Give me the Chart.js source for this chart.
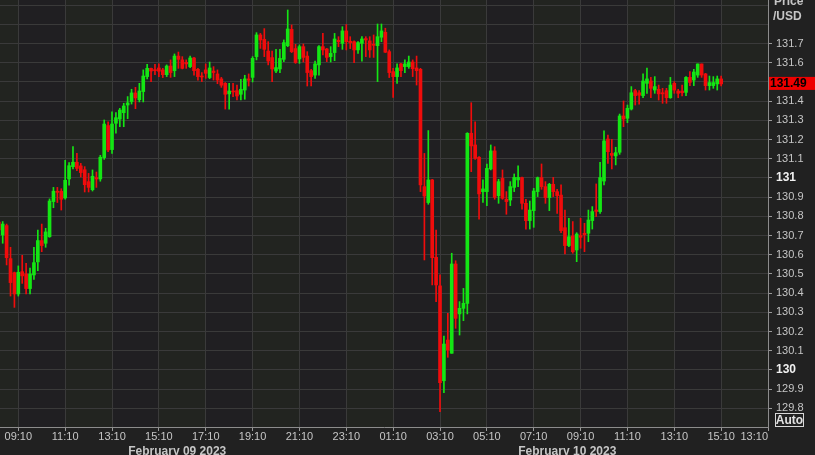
<!DOCTYPE html>
<html>
<head>
<meta charset="utf-8">
<title>Price /USD - 10 minute candles</title>
<script src="https://cdn.jsdelivr.net/npm/chart.js@4.4.1/dist/chart.umd.min.js"></script>
<style>
    html, body { margin: 0; padding: 0; background: #212121; }
    canvas { display: block; }
</style>
</head>
<body>
<canvas id="priceChart" width="815" height="455"></canvas>
<script>
// ─── DATA ────────────────────────────────────────────────────
// 10 minute candles, first one at Feb 09 2023 08:20, last one at Feb 10 15:10

const firstCandleHour = 8 + 20 / 60;   // hours since Feb 09 00:00
const candleMinutes = 10;

const opens = [
    130.77, 130.703, 130.752, 130.580, 130.507, 130.396, 130.512, 130.500, 130.424, 130.495,
    130.563, 130.674, 130.660, 130.694, 130.877, 130.931, 130.931, 130.896, 130.995, 131.059,
    131.082, 131.063, 131.043, 130.981, 130.939, 131.002, 130.995, 131.106, 131.273, 131.148,
    131.285, 131.307, 131.340, 131.380, 131.398, 131.443, 131.408, 131.450, 131.528, 131.571,
    131.564, 131.573, 131.563, 131.538, 131.583, 131.559, 131.635, 131.615, 131.602, 131.580,
    131.625, 131.566, 131.531, 131.563, 131.523, 131.557, 131.542, 131.516, 131.493, 131.438,
    131.453, 131.455, 131.436, 131.458, 131.516, 131.524, 131.632, 131.745, 131.722, 131.661,
    131.627, 131.557, 131.568, 131.618, 131.689, 131.774, 131.674, 131.620, 131.684, 131.635,
    131.559, 131.536, 131.589, 131.684, 131.672, 131.632, 131.653, 131.717, 131.701, 131.766,
    131.712, 131.710, 131.667, 131.701, 131.726, 131.714, 131.696, 131.689, 131.733, 131.759,
    131.658, 131.554, 131.528, 131.594, 131.580, 131.580, 131.604, 131.573, 131.566, 130.955,
    130.872, 130.990, 130.587, 130.438, 129.944, 130.156, 130.087, 130.552, 130.292, 130.321,
    130.347, 131.233, 131.172, 131.108, 130.929, 130.929, 131.047, 131.141, 130.908, 130.998,
    130.889, 130.885, 130.951, 130.990, 131.002, 130.868, 130.778, 130.830, 130.929, 131.002,
    130.955, 130.898, 130.967, 130.929, 130.911, 130.741, 130.648, 130.698, 130.625, 130.700,
    130.712, 130.712, 130.778, 130.833, 130.825, 130.984, 131.203, 131.128, 131.115, 131.134,
    131.323, 131.311, 131.359, 131.455, 131.444, 131.429, 131.493, 131.505, 131.458, 131.462,
    131.444, 131.455, 131.418, 131.493, 131.453, 131.453, 131.446, 131.524, 131.510, 131.536,
    131.594, 131.542, 131.481, 131.481, 131.490, 131.516
];

const highs = [
    130.78, 130.773, 130.760, 130.639, 130.510, 130.542, 130.597, 130.556, 130.531, 130.639,
    130.729, 130.760, 130.738, 130.891, 130.951, 130.951, 130.944, 131.092, 131.080, 131.163,
    131.128, 131.076, 131.059, 131.024, 131.042, 131.031, 131.118, 131.302, 131.292, 131.344,
    131.340, 131.363, 131.389, 131.424, 131.462, 131.472, 131.493, 131.563, 131.592, 131.573,
    131.592, 131.594, 131.571, 131.589, 131.615, 131.646, 131.656, 131.632, 131.615, 131.635,
    131.628, 131.571, 131.549, 131.594, 131.604, 131.580, 131.563, 131.524, 131.497, 131.493,
    131.493, 131.484, 131.514, 131.535, 131.542, 131.632, 131.757, 131.753, 131.778, 131.710,
    131.661, 131.670, 131.670, 131.719, 131.875, 131.797, 131.696, 131.693, 131.698, 131.658,
    131.566, 131.609, 131.689, 131.753, 131.675, 131.684, 131.753, 131.736, 131.788, 131.799,
    131.736, 131.714, 131.710, 131.736, 131.736, 131.736, 131.745, 131.802, 131.802, 131.780,
    131.667, 131.571, 131.594, 131.597, 131.615, 131.635, 131.615, 131.635, 131.571, 131.128,
    131.247, 130.993, 130.729, 130.495, 130.177, 130.295, 130.608, 130.569, 130.356, 130.425,
    131.236, 131.392, 131.293, 131.111, 130.990, 131.073, 131.172, 131.163, 130.993, 131.042,
    130.929, 130.981, 131.021, 131.063, 131.005, 130.889, 130.880, 130.946, 131.005, 131.073,
    130.981, 130.972, 131.003, 130.941, 130.964, 130.833, 130.790, 130.773, 130.715, 130.790,
    130.764, 130.833, 130.851, 130.969, 131.082, 131.245, 131.224, 131.201, 131.160, 131.333,
    131.401, 131.380, 131.476, 131.462, 131.455, 131.542, 131.573, 131.524, 131.528, 131.484,
    131.467, 131.467, 131.524, 131.502, 131.462, 131.484, 131.528, 131.554, 131.566, 131.594,
    131.594, 131.545, 131.531, 131.528, 131.531, 131.531
];

const lows = [
    130.72, 130.660, 130.547, 130.385, 130.326, 130.385, 130.451, 130.396, 130.396, 130.472,
    130.517, 130.616, 130.639, 130.691, 130.845, 130.872, 130.833, 130.889, 130.962, 131.047,
    131.038, 131.005, 130.927, 130.927, 130.932, 130.951, 130.983, 131.097, 131.137, 131.128,
    131.233, 131.267, 131.267, 131.309, 131.385, 131.361, 131.396, 131.396, 131.516, 131.502,
    131.538, 131.528, 131.523, 131.528, 131.524, 131.528, 131.571, 131.568, 131.571, 131.575,
    131.536, 131.510, 131.502, 131.519, 131.517, 131.510, 131.491, 131.472, 131.359, 131.359,
    131.424, 131.406, 131.406, 131.410, 131.479, 131.500, 131.615, 131.675, 131.632, 131.589,
    131.502, 131.549, 131.549, 131.606, 131.684, 131.653, 131.597, 131.597, 131.604, 131.479,
    131.479, 131.519, 131.536, 131.641, 131.606, 131.604, 131.611, 131.684, 131.670, 131.667,
    131.674, 131.601, 131.649, 131.609, 131.632, 131.628, 131.628, 131.502, 131.710, 131.653,
    131.523, 131.420, 131.493, 131.528, 131.549, 131.571, 131.528, 131.484, 130.929, 130.573,
    130.863, 130.443, 130.356, 129.783, 129.882, 130.066, 130.087, 130.217, 130.182, 130.257,
    130.292, 131.033, 131.097, 130.786, 130.873, 130.856, 131.042, 130.889, 130.868, 130.889,
    130.811, 130.856, 130.929, 130.955, 130.837, 130.734, 130.734, 130.743, 130.903, 130.941,
    130.868, 130.830, 130.903, 130.816, 130.715, 130.604, 130.642, 130.608, 130.564, 130.634,
    130.616, 130.668, 130.734, 130.799, 130.816, 130.964, 131.076, 131.047, 131.068, 131.123,
    131.267, 131.288, 131.354, 131.380, 131.385, 131.418, 131.441, 131.418, 131.441, 131.406,
    131.389, 131.389, 131.415, 131.441, 131.418, 131.427, 131.429, 131.481, 131.481, 131.524,
    131.524, 131.458, 131.458, 131.467, 131.458, 131.479
];

const closes = [
    130.73, 130.760, 130.585, 130.455, 130.396, 130.509, 130.490, 130.424, 130.500, 130.559,
    130.674, 130.648, 130.719, 130.880, 130.931, 130.925, 130.889, 130.988, 131.064, 131.082,
    131.050, 131.028, 130.965, 130.951, 131.009, 130.995, 131.108, 131.281, 131.146, 131.281,
    131.314, 131.354, 131.375, 131.391, 131.443, 131.417, 131.453, 131.531, 131.571, 131.557,
    131.559, 131.556, 131.538, 131.583, 131.549, 131.635, 131.618, 131.571, 131.594, 131.625,
    131.559, 131.528, 131.526, 131.545, 131.573, 131.549, 131.510, 131.483, 131.436, 131.453,
    131.448, 131.427, 131.462, 131.516, 131.509, 131.623, 131.745, 131.719, 131.670, 131.609,
    131.568, 131.575, 131.623, 131.705, 131.776, 131.658, 131.601, 131.684, 131.628, 131.549,
    131.528, 131.594, 131.684, 131.667, 131.628, 131.649, 131.724, 131.710, 131.766, 131.710,
    131.705, 131.667, 131.705, 131.724, 131.719, 131.667, 131.691, 131.736, 131.766, 131.655,
    131.549, 131.528, 131.573, 131.559, 131.594, 131.604, 131.569, 131.559, 130.964, 130.906,
    130.990, 130.585, 130.443, 129.934, 130.135, 130.104, 130.552, 130.269, 130.321, 130.347,
    131.233, 131.167, 131.102, 130.917, 130.943, 131.050, 131.141, 130.899, 130.981, 130.894,
    130.877, 130.955, 131.003, 131.003, 130.868, 130.778, 130.833, 130.932, 131.002, 130.955,
    130.898, 130.967, 130.929, 130.908, 130.726, 130.648, 130.694, 130.616, 130.708, 130.691,
    130.705, 130.781, 130.825, 130.826, 131.002, 131.193, 131.137, 131.118, 131.132, 131.323,
    131.307, 131.363, 131.444, 131.429, 131.431, 131.505, 131.516, 131.467, 131.476, 131.438,
    131.438, 131.418, 131.484, 131.458, 131.441, 131.444, 131.524, 131.498, 131.552, 131.594,
    131.536, 131.481, 131.497, 131.497, 131.516, 131.490
];

// axis labels
const yTickValues = [
    129.8, 129.9, 130.0, 130.1, 130.2, 130.3, 130.4, 130.5, 130.6, 130.7, 130.8,
    130.9, 131.0, 131.1, 131.2, 131.3, 131.4, 131.5, 131.6, 131.7, 131.8, 131.9
];
const xTickLabels = [
    '09:10', '11:10', '13:10', '15:10', '17:10', '19:10', '21:10', '23:10', '01:10',
    '03:10', '05:10', '07:10', '09:10', '11:10', '13:10', '15:10', '13:10'
];
const dayLabels = ['February 09 2023', 'February 10 2023'];
const lastPrice = '131.49';


// ─── LOOK ────────────────────────────────────────────────────

const GREEN = '#14e614';
const RED = '#f00c0c';
const GRID = '#3a3a3a';
const AXIS = '#8c8c8c';
const TEXT = '#c6c6c6';
const FONT = "'Liberation Sans', Arial, sans-serif";

const FIRST_TICK_HOUR = 9 + 10 / 60;      // 09:10 Feb 09
const AXIS_START = 8.385;
const AXIS_END = 41 + 10 / 60;            // 17:10 Feb 10
const DAY_CENTERS = [15.95, 32.6];         // where the date captions sit (hours)


// ─── HELPERS ─────────────────────────────────────────────────

const candleHours = opens.map((_, i) => firstCandleHour + i * candleMinutes / 60);
const candleColors = opens.map((o, i) => closes[i] >= o ? GREEN : RED);

function isWhole(v) {
    return Math.abs(v - Math.round(v)) < 1e-6;
}


/**
 * Draws the alternating 2 hour bands behind the grid,
 * then the captions that Chart.js can't place the way the terminal does.
 */
const terminalChrome = {
    id: 'terminalChrome',

    beforeDraw(chart) {
        const { ctx, chartArea: area, scales: { x } } = chart;
        ctx.save();
        ctx.fillStyle = '#212121';
        ctx.fillRect(0, 0, chart.width, chart.height);

        // band before the first tick and every odd band are slightly greener
        let edges = [AXIS_START];
        xTickLabels.forEach((_, i) => edges.push(FIRST_TICK_HOUR + 2 * i));
        for (let i = 0; i < edges.length - 1; i++) {
            const a = x.getPixelForValue(edges[i]);
            const b = x.getPixelForValue(edges[i + 1]);
            ctx.fillStyle = (i % 2 === 0) ? '#222420' : '#201f22';
            ctx.fillRect(a, area.top, b - a, area.bottom - area.top);
        }
        ctx.restore();
    },

    afterDraw(chart) {
        const { ctx, chartArea: area, scales: { x } } = chart;
        ctx.save();

        // time labels under the axis
        ctx.font = `11px ${FONT}`;
        ctx.fillStyle = TEXT;
        ctx.textBaseline = 'middle';
        xTickLabels.forEach((label, i) => {
            const px = x.getPixelForValue(FIRST_TICK_HOUR + 2 * i);
            const last = i === xTickLabels.length - 1;
            ctx.textAlign = last ? 'right' : 'center';
            ctx.fillText(label, last ? area.right : px, 437);
        });

        // day captions
        ctx.font = `bold 12px ${FONT}`;
        ctx.textAlign = 'center';
        ctx.textBaseline = 'alphabetic';
        dayLabels.forEach((label, i) => {
            ctx.fillText(label, x.getPixelForValue(DAY_CENTERS[i]), 454.5);
        });

        // axis title, top right
        ctx.textAlign = 'left';
        ctx.textBaseline = 'middle';
        ctx.fillText('Price', 774, 2);
        ctx.fillText('/USD', 773, 17);

        // last price tag
        const tagY = chart.scales.y.getPixelForValue(Number(lastPrice));
        ctx.fillStyle = '#ee0000';
        ctx.fillRect(area.right + 1, tagY - 7, chart.width - area.right - 1, 13);
        ctx.fillStyle = '#000000';
        ctx.fillText(lastPrice, 770, tagY);

        // "Auto" scale button
        ctx.strokeStyle = '#d8d8d8';
        ctx.lineWidth = 1;
        ctx.strokeRect(775.5, 413.5, 28, 13);
        ctx.fillStyle = '#e2e2e2';
        ctx.textAlign = 'center';
        ctx.fillText('Auto', 789.5, 420.5);

        ctx.restore();
    }
};


// ─── CHART ───────────────────────────────────────────────────

new Chart(document.getElementById('priceChart'), {
    type: 'bar',
    data: {
        datasets: [
            {
                // candle bodies: open -> close
                label: 'Body',
                data: opens.map((o, i) => ({ x: candleHours[i], y: [o, closes[i]] })),
                backgroundColor: candleColors,
                borderWidth: 0,
                barThickness: 3,
                minBarLength: 1,
                grouped: false
            },
            {
                // wicks: low -> high
                label: 'Wick',
                data: lows.map((l, i) => ({ x: candleHours[i], y: [l, highs[i]] })),
                backgroundColor: candleColors,
                borderWidth: 0,
                barThickness: 1,
                minBarLength: 1,
                grouped: false
            }
        ]
    },
    options: {
        responsive: false,
        animation: false,
        events: [],
        layout: { padding: 0 },
        plugins: {
            legend: { display: false },
            tooltip: { enabled: false }
        },
        scales: {
            x: {
                type: 'linear',
                min: AXIS_START,
                max: AXIS_END,
                offset: false,
                afterBuildTicks: scale => {
                    scale.ticks = xTickLabels.map((_, i) => ({ value: FIRST_TICK_HOUR + 2 * i }));
                },
                afterFit: scale => {
                    scale.height = 28;
                    scale.paddingLeft = 0;
                    scale.paddingRight = 0;
                },
                grid: { color: GRID, offset: false, tickLength: 4, tickColor: '#9a9a9a' },
                border: { color: AXIS },
                ticks: { display: false }
            },
            y: {
                position: 'right',
                min: 129.703,
                max: 131.927,
                afterBuildTicks: scale => {
                    scale.ticks = yTickValues.map(v => ({ value: v }));
                },
                afterFit: scale => {
                    scale.width = 47;
                    scale.paddingTop = 0;
                    scale.paddingBottom = 0;
                },
                grid: {
                    color: GRID,
                    tickLength: 4,
                    tickColor: ctx => (ctx.tick && ctx.tick.value > 131.75) ? 'rgba(0,0,0,0)' : '#9a9a9a'
                },
                border: { color: AXIS },
                ticks: {
                    padding: 4,
                    autoSkip: false,
                    color: ctx => (ctx.tick && isWhole(ctx.tick.value)) ? '#f0f0f0' : TEXT,
                    font: ctx => (ctx.tick && isWhole(ctx.tick.value))
                        ? { family: FONT, size: 12, weight: 'bold' }
                        : { family: FONT, size: 11 },
                    callback: v => {
                        if (v > 131.75) return '';
                        return isWhole(v) ? String(Math.round(v)) : v.toFixed(1);
                    }
                }
            }
        }
    },
    plugins: [terminalChrome]
});
</script>
</body>
</html>
